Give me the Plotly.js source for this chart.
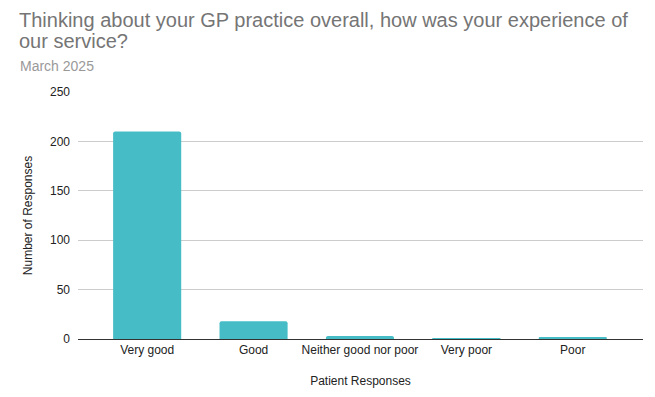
<!DOCTYPE html>
<html>
<head>
<meta charset="utf-8">
<script src="https://cdn.plot.ly/plotly-3.0.1.min.js"></script>
<style>html,body{margin:0;padding:0;background:#fff;}#chart{width:655px;height:397px;}</style>
</head>
<body>
<div id="chart"></div>
<script>
const categories = ["Very good", "Good", "Neither good nor poor", "Very poor", "Poor"];
const responses = [210, 18, 3, 1, 2];
const yTicks = [0, 50, 100, 150, 200, 250];

const titleLines = ["Thinking about your GP practice overall, how was your experience of", "our service?"];
const subtitleText = "March 2025";

const trace = {
  type: "bar",
  x: categories,
  y: responses,
  width: 0.64,
  marker: {color: "#46bdc6", cornerradius: 2},
  hoverinfo: "x+y"
};

const plotW = 565, plotH = 247, mL = 78, mT = 92;
const titleFont = {family: "Liberation Sans, Arial, sans-serif", size: 20, color: "#757575"};
const titleCentersY = [20, 41];

const titleAnns = titleLines.map((t, i) => ({
  text: t,
  xref: "paper", yref: "paper",
  x: (18 - mL) / plotW, xanchor: "left",
  y: 1 + (mT - titleCentersY[i]) / plotH, yanchor: "middle",
  showarrow: false, borderpad: 0,
  font: titleFont
}));

const layout = {
  width: 655,
  height: 397,
  margin: {l: mL, r: 12, t: mT, b: 58},
  paper_bgcolor: "#ffffff",
  plot_bgcolor: "#ffffff",
  font: {family: "Liberation Sans, Arial, sans-serif", color: "#222222", size: 12},
  annotations: titleAnns.concat([
    {
      text: subtitleText,
      xref: "paper", yref: "paper",
      x: (19 - mL) / plotW, xanchor: "left",
      y: 1 + (mT - 66) / plotH, yanchor: "middle",
      showarrow: false, borderpad: 0,
      font: {family: "Liberation Sans, Arial, sans-serif", size: 14, color: "#999999"}
    }
  ]),
  xaxis: {
    range: [-0.65, 4.66],
    showgrid: false,
    showline: true,
    linecolor: "#333333",
    linewidth: 1,
    ticks: "",
    tickfont: {size: 12, color: "#222222"},
    title: {text: "Patient Responses", font: {size: 12, color: "#222222"}, standoff: 20},
    fixedrange: true
  },
  yaxis: {
    range: [0, 250],
    tickvals: yTicks,
    ticktext: yTicks.map(String),
    showgrid: true,
    gridcolor: "#cccccc",
    zeroline: false,
    showline: false,
    ticks: "",
    ticklabelstandoff: 7,
    tickfont: {size: 12, color: "#222222"},
    title: {text: "Number of Responses", font: {size: 12, color: "#222222"}, standoff: 14},
    fixedrange: true
  },
  showlegend: false
};

Plotly.newPlot("chart", [trace], layout, {displayModeBar: false, staticPlot: true});
</script>
</body>
</html>
